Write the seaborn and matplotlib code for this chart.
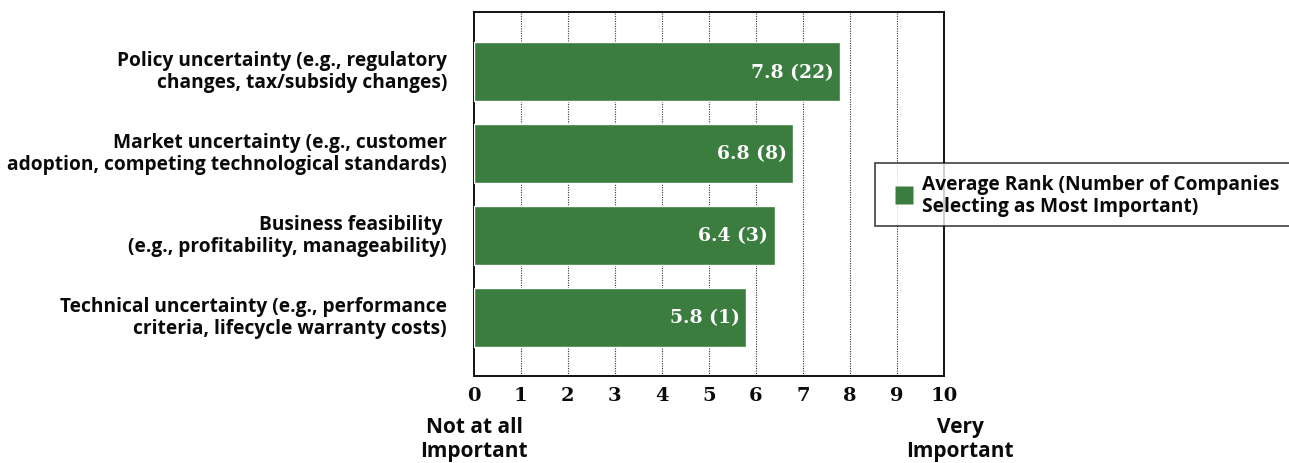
import matplotlib
matplotlib.use("Agg")
import matplotlib.pyplot as plt
import matplotlib.transforms as mtransforms
from matplotlib.lines import Line2D
import seaborn as sns
import pandas as pd

categories = [
    "Policy uncertainty (e.g., regulatory\nchanges, tax/subsidy changes)",
    "Market uncertainty (e.g., customer\nadoption, competing technological standards)",
    "Business feasibility \n(e.g., profitability, manageability)",
    "Technical uncertainty (e.g., performance\ncriteria, lifecycle warranty costs)",
]
avg_rank = [7.8, 6.8, 6.4, 5.8]
n_most_important = [22, 8, 3, 1]
x_ticks = [0, 1, 2, 3, 4, 5, 6, 7, 8, 9, 10]
series_name = "Average Rank (Number of Companies\nSelecting as Most Important)"

GREEN = "#3b7d3f"
INK = "#0a0a0a"
SANS = ["Open Sans", "DejaVu Sans"]
SERIF = ["DejaVu Serif"]

sns.set_theme(style="white")
plt.rcParams["font.family"] = SANS
plt.rcParams["text.color"] = INK
plt.rcParams["xtick.color"] = INK
plt.rcParams["ytick.color"] = INK
plt.rcParams["xtick.labelcolor"] = INK
plt.rcParams["ytick.labelcolor"] = INK

df = pd.DataFrame({"category": categories, "rank": avg_rank,
                   "series": [series_name] * len(categories)})

fig = plt.figure(figsize=(12.89, 4.64), dpi=100)
ax = fig.add_axes([473.5 / 1289, 1 - 377 / 464, (944 - 473.5) / 1289, (377 - 13) / 464])

sns.barplot(data=df, x="rank", y="category", hue="series", palette=[GREEN],
            orient="h", width=0.72, saturation=1, ax=ax, legend=False, zorder=3)

ax.set_xlim(0, 10)
ax.set_ylim(3.72, -0.73)
ax.set_xticks(x_ticks)
ax.set_xticklabels([str(t) for t in x_ticks], fontfamily=SERIF,
                   fontweight="bold", fontsize=14, color=INK)
ax.tick_params(axis="x", length=0, pad=7)
ax.tick_params(axis="y", length=0, pad=19)
lift = mtransforms.ScaledTranslation(0, 4 / 100, fig.dpi_scale_trans)
for lab in ax.get_yticklabels():
    lab.set_fontweight("bold")
    lab.set_fontsize(13.8)
    lab.set_color(INK)
    lab.set_linespacing(1.15)
    lab.set_horizontalalignment("right")
    lab.set_multialignment("right")
    lab.set_transform(lab.get_transform() + lift)
ax.set_xlabel("")
ax.set_ylabel("")

for x in x_ticks[1:-1]:
    ax.axvline(x, color="#333333", linestyle=(0, (1, 1.2)), linewidth=0.8, zorder=1)

for s in ax.spines.values():
    s.set_visible(True)
    s.set_color("#111111")
    s.set_linewidth(1.4)

container = ax.containers[0]
labels = ax.bar_label(container,
                      labels=[f"{v:.1f} ({n})" for v, n in zip(avg_rank, n_most_important)],
                      label_type="edge", padding=-5, color="white", fontweight="bold",
                      fontfamily=SERIF, fontsize=13.5)
for t in labels:
    t.set_horizontalalignment("right")

# scale end descriptions
fig.text(474 / 1289, 1 - 439.5 / 464, "Not at all\nImportant", ha="center", va="center",
         fontweight="bold", fontsize=15, linespacing=1.15, color=INK)
fig.text(960 / 1289, 1 - 439.5 / 464, "Very\nImportant", ha="center", va="center",
         fontweight="bold", fontsize=15, linespacing=1.15, color=INK)

handle = Line2D([], [], linestyle="none", marker="s", markersize=13,
                markerfacecolor=GREEN, markeredgecolor="none")
leg = fig.legend([handle], [series_name], loc="upper left",
                 bbox_to_anchor=(875 / 1289, 1 - 164 / 464), frameon=True,
                 fancybox=False, handlelength=1.9, handleheight=1.0,
                 handletextpad=0.0, borderpad=0.55, borderaxespad=0,
                 prop={"weight": "bold", "size": 13.8, "family": SANS})
for t in leg.get_texts():
    t.set_linespacing(1.15)
    t.set_color(INK)
leg.get_frame().set_edgecolor("#111111")
leg.get_frame().set_linewidth(1.2)
leg.set_zorder(5)

fig.savefig("out.png", dpi=100)
